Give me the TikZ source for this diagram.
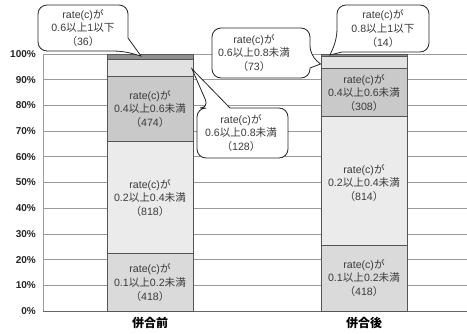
\documentclass[tikz,border=0pt]{standalone}
\usepackage{fontspec}
\setmainfont{Liberation Sans}
\newfontfamily\jp{Noto Sans CJK JP}
\usetikzlibrary{calc}
\newcommand\J[1]{{\jp #1}}
\definecolor{gridc}{HTML}{9A9A9A}
\definecolor{edgec}{HTML}{555555}
\definecolor{sa}{HTML}{DADADA}
\definecolor{sb}{HTML}{EBEBEB}
\definecolor{sc}{HTML}{C9C9C9}
\definecolor{sd}{HTML}{E2E2E2}
\definecolor{se}{HTML}{8E8E8E}
\definecolor{txt}{HTML}{3A3A3A}
\begin{document}
\begin{tikzpicture}[x=1pt,y=-1pt,
  gridline/.style={draw=gridc, line width=0.6pt},
  seg/.style={draw=edgec, line width=0.7pt},
  barlbl/.style={font=\fontsize{10.6}{13.8}\selectfont, align=center, text=txt, inner sep=0pt},
  ylab/.style={anchor=east, inner sep=0pt, font=\bfseries\fontsize{10}{10}\selectfont, text=black!85},
  catlbl/.style={inner sep=0pt, font=\bfseries\fontsize{12}{12}\selectfont},
  cbox/.style={minimum width=#1, inner sep=0pt, outer sep=0pt, draw=none},
  callout/.style={draw=black!85, fill=white, line width=0.8pt},
  ctext/.style={font=\fontsize{10.6}{13.8}\selectfont, align=center, text=txt, inner sep=0pt}]
\useasboundingbox[fill=white] (0,0) rectangle (467,334);

% grid lines and axis
\foreach \k in {0,...,10}{
  \draw[gridline] (43,{311-25.7*\k}) -- (467,{311-25.7*\k});
  \node[ylab] (y\k) at (36,{311-25.7*\k}) {\pgfmathparse{int(10*\k)}\pgfmathresult\%};
}
\draw[gridline] (43,54) -- (43,311);
\draw[draw=black!60, line width=0.7pt] (43,311) -- (467,311);

% bar 1
\filldraw[seg, fill=sa] (107,311) rectangle (193,253.7);
\filldraw[seg, fill=sb] (107,253.7) rectangle (193,141.6);
\filldraw[seg, fill=sc] (107,141.6) rectangle (193,76.6);
\filldraw[seg, fill=sd] (107,76.6) rectangle (193,58.9);
\filldraw[seg, fill=se] (107,58.9) rectangle (193,54);
% bar 2
\filldraw[seg, fill=sa] (321,311) rectangle (407,245);
\filldraw[seg, fill=sb] (321,245) rectangle (407,116.5);
\filldraw[seg, fill=sc] (321,116.5) rectangle (407,67.9);
\filldraw[seg, fill=sd] (321,67.9) rectangle (407,56.3);
\filldraw[seg, fill=se] (321,56.3) rectangle (407,54);

% bar labels
\node[barlbl] (a1) at (150,282.5) {rate(c)\J{が}\\0.1\J{以上}0.2\J{未満}\\\J{（}418\J{）}};
\node[barlbl] (a2) at (150,198) {rate(c)\J{が}\\0.2\J{以上}0.4\J{未満}\\\J{（}818\J{）}};
\node[barlbl] (a3) at (150,109) {rate(c)\J{が}\\0.4\J{以上}0.6\J{未満}\\\J{（}474\J{）}};
\node[barlbl] (b1) at (364,278) {rate(c)\J{が}\\0.1\J{以上}0.2\J{未満}\\\J{（}418\J{）}};
\node[barlbl] (b2) at (364,183) {rate(c)\J{が}\\0.2\J{以上}0.4\J{未満}\\\J{（}814\J{）}};
\node[barlbl] (b3) at (364,93) {rate(c)\J{が}\\0.4\J{以上}0.6\J{未満}\\\J{（}308\J{）}};

% category labels
\node[catlbl] (k1) at (150,323) {\J{併合前}};
\node[catlbl] (k2) at (364,323) {\J{併合後}};

% callout 1
\node[cbox=90pt, minimum height=46pt] (c1) at (83,28) {};
\coordinate (t1) at (141,56);
\draw[callout] ($(c1.south east)+(0,-13)$) [rounded corners=9pt] -- (c1.north east) -- (c1.north west) -- (c1.south west) -- ($(c1.south east)+(-5,0)$) [sharp corners] -- (t1) -- cycle;
\node[ctext] (c1t) at (83,28) {rate(c)\J{が}\\0.6\J{以上}1\J{以下}\\\J{（}36\J{）}};

% callout 2
\node[cbox=91pt, minimum height=50pt] (c2) at (242.5,133) {};
\coordinate (t2) at (192,69);
\draw[callout] ($(c2.north west)+(12,0)$) [sharp corners] -- (t2) -- ($(c2.north west)+(33,0)$) [rounded corners=9pt] -- (c2.north east) -- (c2.south east) -- (c2.south west) -- (c2.north west) -- cycle;
\node[ctext] (c2t) at (241,133) {rate(c)\J{が}\\0.6\J{以上}0.8\J{未満}\\\J{（}128\J{）}};

% callout 3
\node[cbox=98pt, minimum height=50pt] (c3) at (261,53) {};
\coordinate (t3) at (320.5,64);
\draw[callout] ($(c3.north east)+(0,27)$) [sharp corners] -- (t3) -- ($(c3.north east)+(0,40)$) [rounded corners=9pt] -- (c3.south east) -- (c3.south west) -- (c3.north west) -- (c3.north east) -- cycle;
\node[ctext] (c3t) at (254,53) {rate(c)\J{が}\\0.6\J{以上}0.8\J{未満}\\\J{（}73\J{）}};

% callout 4
\node[cbox=92pt, minimum height=47pt] (c4) at (383,28.5) {};
\coordinate (t4) at (330,55);
\draw[callout] ($(c4.south west)+(0,-13)$) [sharp corners] -- (t4) -- ($(c4.south west)+(5,0)$) [rounded corners=9pt] -- (c4.south east) -- (c4.north east) -- (c4.north west) -- cycle;
\node[ctext] (c4t) at (383,28.5) {rate(c)\J{が}\\0.8\J{以上}1\J{以下}\\\J{（}14\J{）}};
\end{tikzpicture}
\end{document}
